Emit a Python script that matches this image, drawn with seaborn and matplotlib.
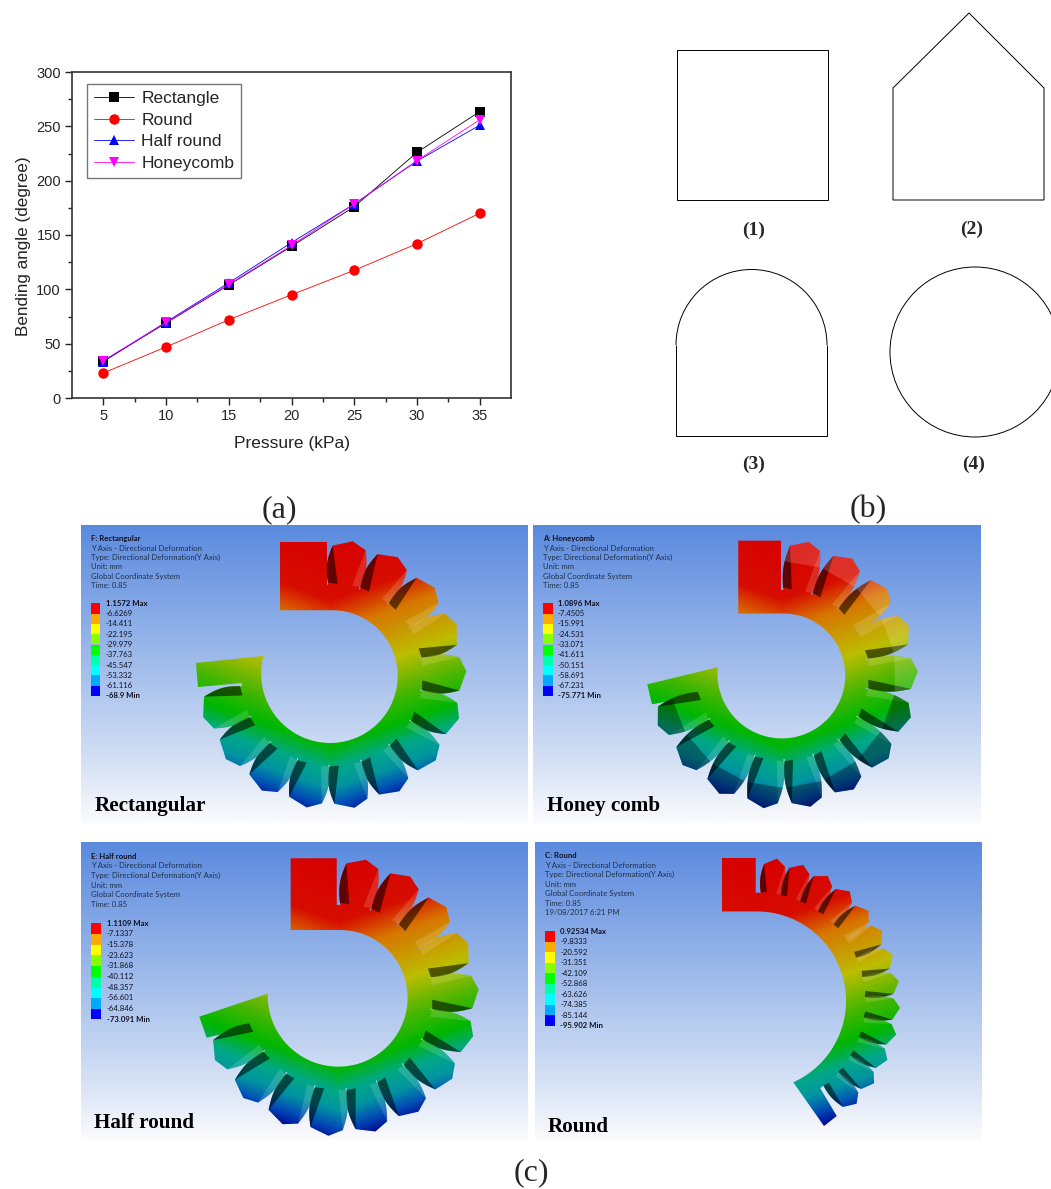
import numpy as np
import pandas as pd
import matplotlib
matplotlib.use("Agg")
import matplotlib.pyplot as plt
import seaborn as sns
from matplotlib.colors import LinearSegmentedColormap
from matplotlib.path import Path
from matplotlib.patches import PathPatch, Polygon, Rectangle, Circle, Arc

# chart data
pressure = [5, 10, 15, 20, 25, 30, 35]
rectangle = [34, 69, 104, 139.5, 176, 226, 263.5]
round_ = [23, 47, 72, 95, 117.5, 142, 170]
half_round = [33.5, 70, 106, 143, 178.5, 218, 251]
honeycomb = [34.5, 69.5, 104.5, 140.5, 178.5, 218.5, 256]

series_names = ["Rectangle", "Round", "Half round", "Honeycomb"]
series_colors = ["#000000", "#ff0000", "#0000ff", "#ff00ff"]
series_markers = ["s", "o", "^", "v"]

# legend scales of the simulation panels
scale_rect = ["1.1572 Max", "-6.6269", "-14.411", "-22.195", "-29.979", "-37.763", "-45.547", "-53.332", "-61.116", "-68.9 Min"]
scale_honey = ["1.0896 Max", "-7.4505", "-15.991", "-24.531", "-33.071", "-41.611", "-50.151", "-58.691", "-67.231", "-75.771 Min"]
scale_half = ["1.1109 Max", "-7.1337", "-15.378", "-23.623", "-31.868", "-40.112", "-48.357", "-56.601", "-64.846", "-73.091 Min"]
scale_round = ["0.92534 Max", "-9.8333", "-20.592", "-31.351", "-42.109", "-52.868", "-63.626", "-74.385", "-85.144", "-95.902 Min"]

info_lines = ["Y Axis - Directional Deformation", "Type: Directional Deformation(Y Axis)",
              "Unit: mm", "Global Coordinate System", "Time: 0.85"]
bar_colors = ["#ff0000", "#ffaa00", "#ffff00", "#88ff00", "#00ff00",
              "#00ffaa", "#00ffff", "#00aaff", "#0000ff"]

# colour ramp along the bent actuator
ramp_pos = [-140, -75, -45, 5, 45, 72, 95, 115, 132, 150]
ramp_col = ["#ff0000", "#ff1000", "#ff8c00", "#e0e000", "#50d800", "#00d800", "#00c8a0", "#00b0c0", "#0060d8", "#0000b0"]
ramp = LinearSegmentedColormap.from_list(
    "ramp", [((p - ramp_pos[0]) / (ramp_pos[-1] - ramp_pos[0]), c) for p, c in zip(ramp_pos, ramp_col)])
sky = LinearSegmentedColormap.from_list(
    "sky", [(0, "#5a8ade"), (0.12, "#6d97e2"), (0.5, "#a6c0ec"), (0.8, "#d5e1f5"), (1, "#fbfbfd")])

W, H = 1051, 1189

panels = [
    dict(box=(81, 525, 447, 298), title="F: Rectangular", scale=scale_rect, caption="Rectangular", cap_xy=(94.5, 806),
         tx=91, ty=539, row=9.25, lines=5, bar=(90.7, 603.3, 696), lx=106,
         c=(331.3, 674.7), r_in=64.5, r_root=90, r_tip=135, n=13, first=8, step=20.4,
         block=(280, 327, 542), arm=[(241, 683), (198, 687), (196, 663), (263.3, 656)], facet=False),
    dict(box=(533, 525, 448, 298), title="A: Honeycomb", scale=scale_honey, caption="Honey comb", cap_xy=(547, 806),
         tx=543, ty=539, row=9.25, lines=5, bar=(543, 603.3, 696), lx=558,
         c=(782.8, 674.5), r_in=61, r_root=84.5, r_tip=135, n=13, first=10, step=19.9,
         block=(738.3, 781, 540.7), arm=[(701, 695), (652, 704.3), (647.3, 684.3), (717.7, 667.3)], facet=True),
    dict(box=(81, 842, 447, 298), title="E: Half round", scale=scale_half, caption="Half round", cap_xy=(94.5, 1123),
         tx=91, ty=856.3, row=9.6, lines=5, bar=(91, 923.3, 1019.3), lx=106.7,
         c=(339.3, 996.7), r_in=66.7, r_root=91.7, r_tip=139.5, n=13, first=10, step=19.5,
         block=(290.7, 336.7, 858.3), arm=[(252.3, 1026.7), (206.7, 1037.7), (199.3, 1016.7), (267.7, 993.7)], facet=False),
    dict(box=(535, 842, 447, 298), title="C: Round", scale=scale_round, caption="Round", cap_xy=(547.3, 1127),
         tx=545, ty=856, row=9.45, lines=6, bar=(545, 931.3, 1026), lx=560.3,
         c=(756.7, 1000.7), r_in=89.3, r_root=108, r_tip=143.5, n=13, first=7.5, step=10.75,
         block=(722, 755.7, 858), arm=[(819.3, 1086.7), (836.7, 1116), (824, 1126), (793.3, 1082.3)], facet=False),
]


def polar(c, r, deg):
    # angle measured clockwise from the top of the panel
    a = np.radians(deg)
    return np.column_stack([c[0] + r * np.sin(a), c[1] - r * np.cos(a)])


def ccw(pts):
    x, y = pts[:, 0], pts[:, 1]
    area = np.sum(x * np.roll(y, -1) - np.roll(x, -1) * y)
    return pts if area > 0 else pts[::-1]


def closed_path(pts):
    pts = ccw(np.asarray(pts, dtype=float))
    codes = [Path.MOVETO] + [Path.LINETO] * (len(pts) - 1) + [Path.CLOSEPOLY]
    return Path(np.vstack([pts, pts[0]]), codes)


def tooth_parts(p, theta):
    c, r0, r1 = p["c"], p["r_root"], p["r_tip"]
    s = np.radians(p["step"]) * r0
    t = np.linspace(0, 1, 24)
    w = (0.46 * s * (1 - t) + 0.52 * s * t + 0.12 * s * np.sin(np.pi * t))
    r = (r0 - 3) + (r1 - 7 - r0 + 3) * t
    a = np.radians(theta)
    u = np.array([np.sin(a), -np.cos(a)])
    v = np.array([np.cos(a), np.sin(a)])

    def pt(rr, off):
        return np.array(c) + np.outer(rr, u) + np.outer(off, v)

    # the dark flank faces away from the light: towards the top on the first teeth
    sign = -1 if theta < 60 else 1
    dark_side = pt(r, sign * w)
    light_side = pt(r, -sign * w)
    apex = pt(np.array([r1]), np.array([-sign * 0.08 * s]))
    outline = np.vstack([dark_side, apex, light_side[::-1]])
    dark = np.vstack([dark_side[2:], pt(np.array([r0 + 1]), np.array([sign * 0.2 * s]))])
    light = np.vstack([light_side[2:], pt(np.array([r0 + 1]), np.array([-sign * 0.26 * s]))])
    i = 15
    facet = np.vstack([dark_side[i:], apex, light_side[i:][::-1]])
    return outline, dark, light, facet


def draw_panel(ax, p):
    x, y, w, h = p["box"]
    grad = np.linspace(0, 1, 256).reshape(-1, 1)
    ax.imshow(grad, cmap=sky, extent=(x, x + w, y + h, y), aspect="auto", zorder=1)

    # info block
    ax.text(p["tx"], p["ty"], p["title"], fontsize=5.6, fontweight="bold", family="Lato",
            color="#101020", va="center", zorder=5)
    stamp = ["19/08/2017 6:21 PM"] if p["lines"] == 6 else []
    for i, line in enumerate(info_lines + stamp):
        ax.text(p["tx"], p["ty"] + (i + 1) * p["row"], line, fontsize=5.6, family="Lato",
                color="#20304a", va="center", zorder=5)

    # colour scale
    bx, b0, b1 = p["bar"]
    cell = (b1 - b0) / len(bar_colors)
    for i, col in enumerate(bar_colors):
        ax.add_patch(Rectangle((bx, b0 + i * cell), 9.5, cell, fc=col, ec="none", zorder=5))
    for i, lab in enumerate(p["scale"]):
        bold = i in (0, len(p["scale"]) - 1)
        ax.text(p["lx"], b0 + i * cell, lab, fontsize=5.6, family="Lato", va="center",
                fontweight="bold" if bold else "normal", color="#101020", zorder=5)

    ax.text(*p["cap_xy"], p["caption"], fontsize=15.2, family="Liberation Serif", fontweight="bold",
            color="black", va="center", zorder=6)

    # body of the actuator
    c = p["c"]
    arm = np.array(p["arm"], dtype=float)
    bx0, bx1, by0 = p["block"]
    inner_top = c[1] - p["r_in"]
    root_top = polar(c, p["r_root"], 0)[0, 1]
    notch_ang = np.degrees(np.arctan2(arm[0, 0] - c[0], -(arm[0, 1] - c[1]))) % 360
    inner_ang = np.degrees(np.arctan2(arm[3, 0] - c[0], -(arm[3, 1] - c[1]))) % 360
    r_inner_end = np.hypot(*(arm[3] - np.array(c)))
    inner = polar(c, np.linspace(p["r_in"], r_inner_end, 70), np.linspace(0, inner_ang, 70))
    outer = polar(c, p["r_root"], np.linspace(2, notch_ang, 90))
    body = np.vstack([[(bx0, by0), (bx1, by0), (bx1, root_top)], outer, arm, inner[::-1], [(bx0, inner_top)]])

    teeth = [p["first"] + i * p["step"] for i in range(p["n"])]
    parts = [tooth_parts(p, th) for th in teeth]

    compound = Path.make_compound_path(closed_path(body), *[closed_path(q[0]) for q in parts])

    # colour field, clipped to the actuator outline
    xs = np.linspace(c[0] - 170, c[0] + 170, 340)
    ys = np.linspace(c[1] - 170, c[1] + 170, 340)
    gx, gy = np.meshgrid(xs, ys)
    field = (gy - c[1]) + 0.35 * np.abs(gx - c[0])
    im = ax.imshow(field, cmap=ramp, vmin=ramp_pos[0], vmax=ramp_pos[-1], aspect="auto",
                   extent=(xs[0], xs[-1], ys[-1], ys[0]), zorder=2, interpolation="bilinear")
    im.set_clip_path(PathPatch(compound, transform=ax.transData))

    # shading on top of the colour field
    im_shade = ax.imshow(np.zeros((2, 2, 4)) + np.array([0, 0, 0, 0.16]), aspect="auto",
                         extent=(xs[0], xs[-1], ys[-1], ys[0]), zorder=3)
    im_shade.set_clip_path(PathPatch(compound, transform=ax.transData))
    for th, (outline, dark, light, facet) in zip(teeth, parts):
        ax.add_patch(Polygon(light, fc="white", ec="none", alpha=0.14, zorder=3))
        ax.add_patch(Polygon(dark, fc="black", ec="none", alpha=0.55, zorder=3))
        if p["facet"]:
            shade = ("white", 0.16) if th < 100 else ("black", 0.35)
            ax.add_patch(Polygon(facet, fc=shade[0], ec="none", alpha=shade[1], zorder=3))


def draw_shapes(ax):
    # panel (b) cross sections
    kw = dict(fc="none", ec="black", lw=0.7, zorder=3)
    ax.add_patch(Rectangle((677, 50), 151, 150, **kw))
    ax.add_patch(Polygon([(893, 88), (969, 13), (1044, 88), (1044, 200), (893, 200)], closed=True, **kw))
    ax.add_patch(Polygon([(676, 345), (676, 436), (827, 436), (827, 345)], closed=False, **kw))
    ax.add_patch(Arc((751.5, 345), 151, 151, theta1=180, theta2=360, ec="black", lw=0.7, zorder=3))
    ax.add_patch(Circle((975, 352), 85, **kw))
    for lab, xy in zip(["(1)", "(2)", "(3)", "(4)"], [(754, 230), (972, 229), (754, 464), (974, 464)]):
        ax.text(*xy, lab, fontsize=14, family="Liberation Serif", fontweight="bold", ha="center", va="center")


def main():
    sns.set_theme(style="ticks")
    plt.rcParams["font.family"] = ["Liberation Sans", "DejaVu Sans"]

    fig = plt.figure(figsize=(W / 100, H / 100), dpi=100, facecolor="white")

    # overlay in pixel coordinates for the drawings
    canvas = fig.add_axes([0, 0, 1, 1], zorder=1)
    canvas.set_axis_off()
    for p in panels:
        draw_panel(canvas, p)
    draw_shapes(canvas)
    for lab, xy in zip(["(a)", "(b)", "(c)"], [(279, 510), (868, 510), (531, 1173)]):
        canvas.text(*xy, lab, fontsize=23, family="Liberation Serif", ha="center", va="center")
    canvas.set_xlim(0, W)
    canvas.set_ylim(H, 0)

    # panel (a)
    df = pd.DataFrame({
        "pressure": pressure * 4,
        "angle": rectangle + round_ + half_round + honeycomb,
        "shape": [n for n in series_names for _ in pressure],
    })
    ax = fig.add_axes([72 / W, 1 - 398 / H, 439 / W, 326 / H], zorder=2)
    sns.lineplot(
        data=df, x="pressure", y="angle", hue="shape", style="shape", ax=ax,
        palette=dict(zip(series_names, series_colors)),
        markers=dict(zip(series_names, series_markers)),
        dashes=False, linewidth=0.6, markersize=7.5, markeredgewidth=0, errorbar=None,
    )
    ax.set_xlim(2.5, 37.5)
    ax.set_ylim(0, 300)
    ax.set_xticks(pressure)
    ax.set_xticks(np.arange(7.5, 35, 5), minor=True)
    ax.set_yticks(np.arange(0, 301, 50))
    ax.set_yticks(np.arange(25, 300, 50), minor=True)
    ax.tick_params(axis="both", which="major", length=5, width=1, labelsize=10.5, color="#222222", pad=3)
    ax.tick_params(axis="both", which="minor", length=3, width=1, color="#222222")
    ax.set_xlabel("Pressure (kPa)", fontsize=12.5, labelpad=9, color="#222222")
    ax.set_ylabel("Bending angle (degree)", fontsize=12.3, labelpad=4, color="#222222", y=0.465)
    for sp in ax.spines.values():
        sp.set_visible(True)
        sp.set_linewidth(1.2)
        sp.set_color("#333333")

    handles, labels = ax.get_legend_handles_labels()
    ax.legend(handles, labels, loc="upper left", bbox_to_anchor=(15 / 439, 1 - 12 / 326), borderaxespad=0,
              fontsize=12.5, frameon=True, fancybox=False, edgecolor="#777777", framealpha=1,
              handlelength=2.3, handletextpad=0.4, labelspacing=0.36, borderpad=0.42)
    ax.get_legend().get_frame().set_linewidth(1)

    fig.savefig("out.png", dpi=100)


if __name__ == "__main__":
    main()
